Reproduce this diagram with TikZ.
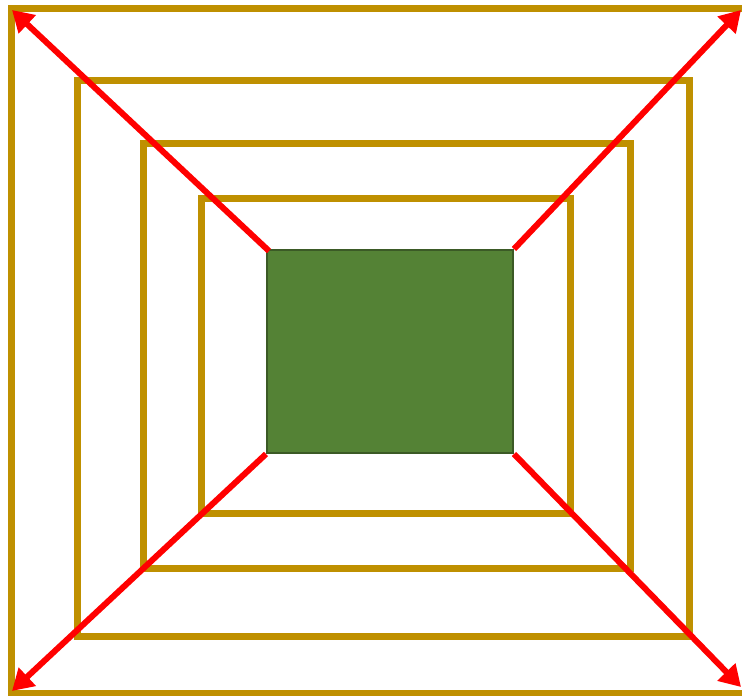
\documentclass[tikz,border=0pt]{standalone}
\usetikzlibrary{arrows.meta}
\definecolor{gold}{HTML}{BF9000}
\definecolor{leaf}{HTML}{548235}
\definecolor{leafdark}{HTML}{3B5A26}
\begin{document}
\begin{tikzpicture}[x=1pt,y=-1pt,
  frame/.style={draw=gold,line width=7pt},
  ray/.style={draw=red,line width=6pt,-{Triangle[length=21pt,width=24pt]}}]
\useasboundingbox (0,0) rectangle (742,696);
\draw[frame] (11.5,8.5) rectangle (745,693);
\draw[frame] (77,80) rectangle (689,636);
\draw[frame] (143,143.5) rectangle (630.5,568.5);
\draw[frame] (201,198) rectangle (570,513.5);
\node[draw=leafdark,fill=leaf,line width=2pt,minimum width=246pt,minimum height=203pt,inner sep=0pt] (core) at (390,351.5) {};
\coordinate (tl) at (12,10);
\coordinate (tr) at (741,10);
\coordinate (bl) at (12,691);
\coordinate (br) at (741,687);
\draw[ray] ([xshift=3pt,yshift=-2pt]core.north west) -- (tl);
\draw[ray] (core.north east) -- (tr);
\draw[ray] (core.south west) -- (bl);
\draw[ray] (core.south east) -- (br);
\end{tikzpicture}
\end{document}
